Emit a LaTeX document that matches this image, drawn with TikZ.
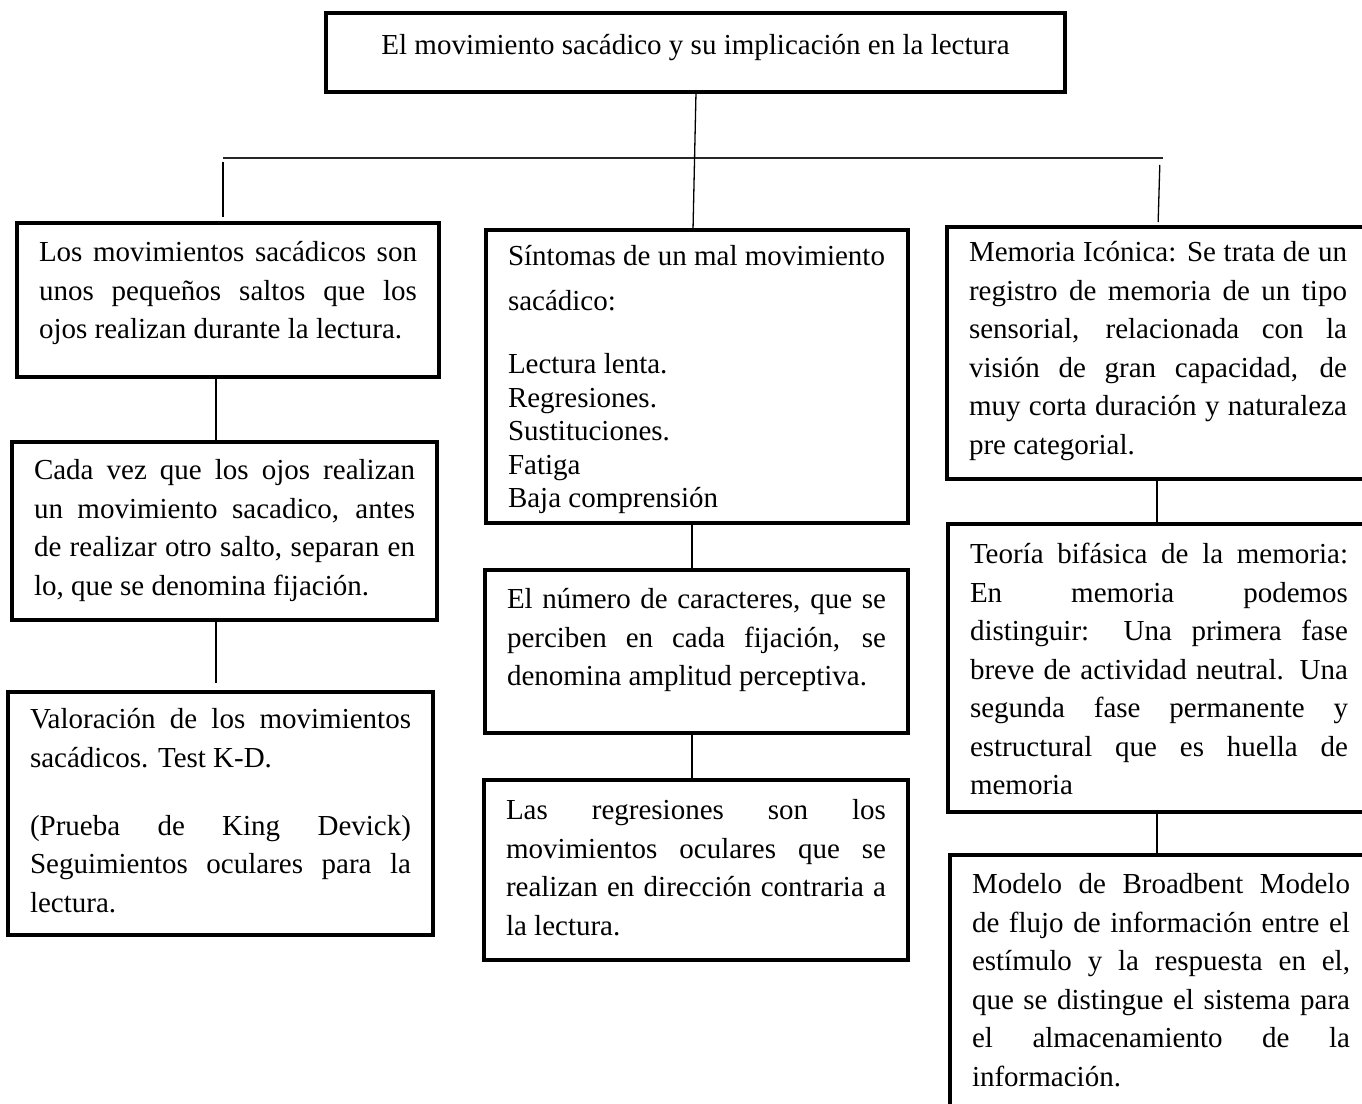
\documentclass[tikz,border=0pt]{standalone}
\usepackage{fontspec}
\setmainfont{Liberation Serif}
\newcommand{\jl}[1]{\makebox[\linewidth][s]{#1}}
\newcommand{\btext}[4]{\parbox[c][#2][t]{#1}{\vspace*{#3}\strut #4}}
\tikzset{
  box/.style={draw, line width=3.5pt, inner ysep=0pt, inner xsep=22pt, outer sep=0pt,
    anchor=north west, font=\fontsize{29}{38.5}\selectfont},
  conn/.style={line width=1.3pt},
  hline/.style={line width=1.7pt, black!85}
}
\begin{document}
\begin{tikzpicture}[x=1pt,y=-1pt]
\clip (0,0) rectangle (1362,1103);
\fill[white] (0,0) rectangle (1362,1103);

% title
\node[box, inner xsep=0pt] (t) at (326,13)
  {\btext{739pt}{79pt}{15pt}{\centering El movimiento sacádico y su implicación en la lectura}};

% left column
\node[box] (b1) at (17,223) {\btext{378pt}{154pt}{12pt}{%
\jl{Los movimientos sacádicos son}\\
\jl{unos pequeños saltos que los}\\
ojos realizan durante la lectura.}};

\node[box] (b2) at (12,442) {\btext{381pt}{178pt}{11pt}{%
\jl{Cada vez que los ojos realizan}\\
\jl{un movimiento sacadico, antes}\\
\jl{de realizar otro salto, separan en}\\
lo, que se denomina fijación.}};

\node[box] (b3) at (8,692) {\btext{381pt}{243pt}{10pt}{%
\jl{Valoración de los movimientos}\\
sacádicos. Test K-D.\\[29.5pt]
\jl{(Prueba de King Devick)}\\
\jl{Seguimientos oculares para la}\\
lectura.}};

% middle column
\node[box] (b4) at (486,230) {\btext{378pt}{293pt}{9pt}{%
Síntomas de un mal movimiento\\[6pt]
sacádico:\\[25pt]
Lectura lenta.\\[-5pt]
Regresiones.\\[-5pt]
Sustituciones.\\[-5pt]
Fatiga\\[-5pt]
Baja comprensión}};

\node[box] (b5) at (485,570) {\btext{379pt}{163pt}{12pt}{%
\jl{El número de caracteres, que se}\\
\jl{perciben en cada fijación, se}\\
denomina amplitud perceptiva.}};

\node[box] (b6) at (484,780) {\btext{380pt}{180pt}{13pt}{%
\jl{Las regresiones son los}\\
\jl{movimientos oculares que se}\\
\jl{realizan en dirección contraria a}\\
la lectura.}};

% right column
\node[box] (b7) at (947,227) {\btext{378pt}{252pt}{8pt}{%
\jl{Memoria Icónica: Se trata de un}\\
\jl{registro de memoria de un tipo}\\
\jl{sensorial, relacionada con la}\\
\jl{visión de gran capacidad, de}\\
\jl{muy corta duración y naturaleza}\\
pre categorial.}};

\node[box] (b8) at (948,524) {\btext{378pt}{288pt}{13pt}{%
\jl{Teoría bifásica de la memoria:}\\
\jl{En memoria podemos}\\
\jl{distinguir: Una primera fase}\\
\jl{breve de actividad neutral. Una}\\
\jl{segunda fase permanente y}\\
\jl{estructural que es huella de}\\
memoria}};

\node[box] (b9) at (950,855) {\btext{378pt}{270pt}{12pt}{%
\jl{Modelo de Broadbent Modelo}\\
\jl{de flujo de información entre el}\\
\jl{estímulo y la respuesta en el,}\\
\jl{que se distingue el sistema para}\\
\jl{el almacenamiento de la}\\
información.}};

% connectors
\coordinate (hl) at (223,158);
\coordinate (hr) at (1163,158);
\draw[hline] (hl) -- (hr);
\draw[conn] ([xshift=0.5pt]t.south) -- ([xshift=-4pt]b4.north);
\draw[conn, shorten <=4pt, shorten >=6pt] (hl) -- (hl |- b1.north);
\draw[conn, shorten <=7pt, shorten >=5pt] ([xshift=-3pt]hr) -- (b7.north);
\draw[conn] ([xshift=-12pt]b1.south) -- ([xshift=-8.5pt]b2.north);
\draw[conn, shorten >=9pt] ([xshift=-8.5pt]b2.south) -- ([xshift=-4.5pt]b3.north);
\draw[conn] ([xshift=-5pt]b4.south) -- ([xshift=-4.5pt]b5.north);
\draw[conn, shorten >=2pt] ([xshift=-4.5pt]b5.south) -- ([xshift=-4pt]b6.north);
\draw[conn] ([xshift=-1pt]b7.south) -- ([xshift=-2pt]b8.north);
\draw[conn] ([xshift=-2pt]b8.south) -- ([xshift=-4pt]b9.north);
\end{tikzpicture}
\end{document}
